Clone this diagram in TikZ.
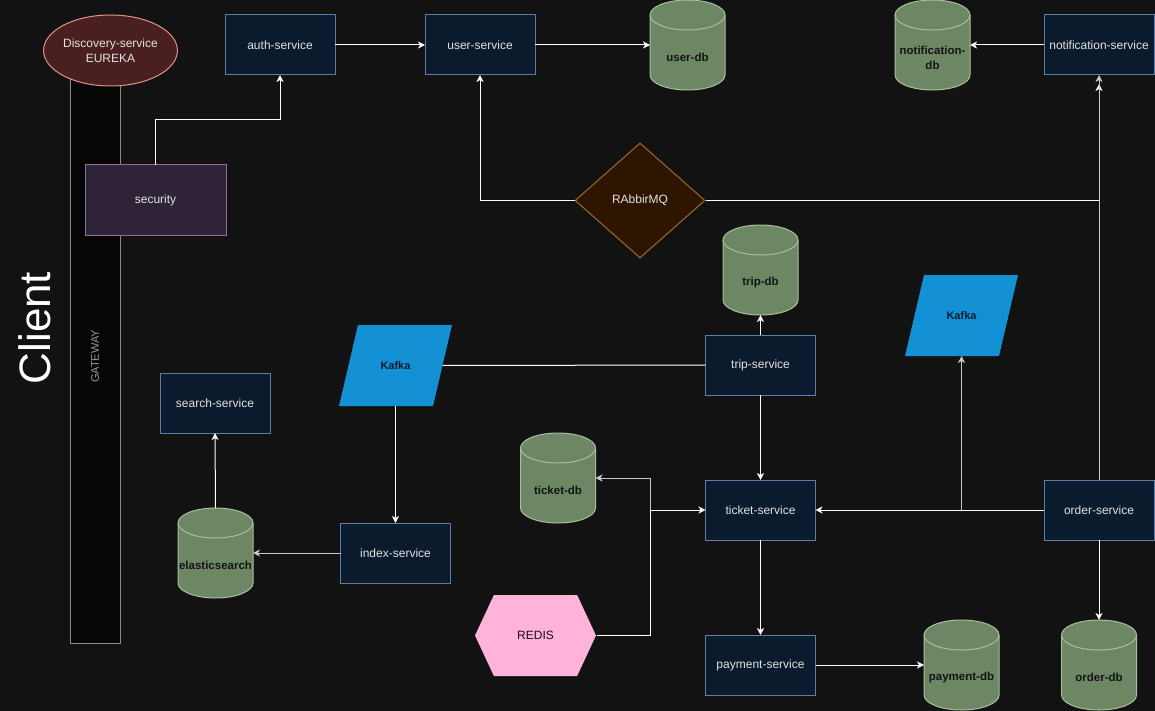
\documentclass[tikz,border=0pt]{standalone}
\usepackage{fontspec}
\setmainfont{Liberation Sans}
\usetikzlibrary{arrows.meta,shapes.geometric,shapes.symbols}

\definecolor{bg}{HTML}{121212}
\definecolor{svcfill}{HTML}{0C1A2D}
\definecolor{svcline}{HTML}{5D7EA8}
\definecolor{svctext}{HTML}{E2E2E2}
\definecolor{dbfill}{HTML}{6D8764}
\definecolor{dbrim}{HTML}{A9BE9F}
\definecolor{dbtextc}{HTML}{141414}
\definecolor{secfill}{HTML}{2E2337}
\definecolor{secline}{HTML}{8C6E9E}
\definecolor{eurekafill}{HTML}{4A1F1F}
\definecolor{eurekaline}{HTML}{E0918A}
\definecolor{mqfill}{HTML}{2E1500}
\definecolor{mqline}{HTML}{A36A1E}
\definecolor{kafkafill}{HTML}{1490D4}
\definecolor{kafkatext}{HTML}{0D1B2E}
\definecolor{redisfill}{HTML}{FFB3DA}
\definecolor{redistext}{HTML}{1E0A14}
\definecolor{gwfill}{HTML}{060606}
\definecolor{gwline}{HTML}{8A8A8A}
\definecolor{gwtext}{HTML}{9A9A9A}
\definecolor{linkgray}{HTML}{C8C8C8}

% Database cylinder: name, x, y (centre), text
\newcommand{\dbnode}[4]{%
    \node[dbbox] (#1) at (#2,#3) {};
    \filldraw[dbshape] ([yshift=-15pt]#1.north west) -- ([yshift=15pt]#1.south west)
        arc[start angle=180,end angle=360,x radius=37.5pt,y radius=15pt]
        -- ([yshift=-15pt]#1.north east)
        arc[start angle=0,end angle=180,x radius=37.5pt,y radius=15pt] -- cycle;
    \draw[dbshape,fill=none] ([yshift=-15pt]#1.north west)
        arc[start angle=180,end angle=360,x radius=37.5pt,y radius=15pt];
    \node[dbtext] at ([yshift=-12.5pt]#1.center) {#4};
}

% Kafka queue (slanted box): name, x, y (centre)
\newcommand{\kafkanode}[3]{%
    \node[kafkabox] (#1) at (#2,#3) {};
    \fill[kafkafill] ([xshift=19pt]#1.north west) -- (#1.north east)
        -- ([xshift=-19pt]#1.south east) -- (#1.south west) -- cycle;
    \node[kafkatxt] at (#1.center) {Kafka};
}

\begin{document}
\begin{tikzpicture}[x=1pt,y=1pt,line width=1pt,
    >={Stealth[length=7pt,width=7pt,inset=2pt]},
    svc/.style={draw=svcline,fill=svcfill,text=svctext,minimum width=110,minimum height=60,
        inner sep=0,outer sep=0,font=\fontsize{12}{14}\selectfont},
    dbbox/.style={minimum width=75,minimum height=90,inner sep=0,outer sep=0},
    dbshape/.style={draw=dbrim,fill=dbfill},
    dbtext/.style={text=dbtextc,align=center,font=\fontsize{11.5}{15}\selectfont\bfseries},
    kafkabox/.style={minimum width=113,minimum height=81,inner sep=0,outer sep=0},
    kafkatxt/.style={text=kafkatext,font=\fontsize{11}{13}\selectfont\bfseries},
    link/.style={->,draw=white},
    glink/.style={->,draw=linkgray}]
    \useasboundingbox (0,0) rectangle (1155,-711);
    \fill[bg] (0,0) rectangle (1155,-711);

    % Gateway, discovery and security:
    \node[draw=gwline,fill=gwfill,rotate=90,minimum width=573,minimum height=50,inner sep=0,
        text=gwtext,font=\fontsize{11}{13}\selectfont] (gateway) at (95,-356.5) {GATEWAY};
    \node[ellipse,draw=eurekaline,fill=eurekafill,minimum width=131,minimum height=71,inner sep=0,
        align=center,text=svctext,font=\fontsize{12}{15}\selectfont] (eureka) at (110.5,-50.5) {Discovery-service\\EUREKA};
    \node[svc,draw=secline,fill=secfill,minimum width=141,minimum height=70] (security) at (155.5,-200) {security};
    \node[rotate=90,text=white,font=\fontsize{44}{44}\selectfont] (client) at (35,-328) {Client};

    % Services:
    \node[svc] (auth)    at (280,-45)   {auth-service};
    \node[svc] (user)    at (480,-45)   {user-service};
    \node[svc] (notif)   at (1099,-45)  {notification-service};
    \node[svc] (search)  at (215,-403)  {search-service};
    \node[svc] (index)   at (395.5,-553) {index-service};
    \node[svc] (trip)    at (760.5,-365) {trip-service};
    \node[svc] (ticket)  at (760.5,-510) {ticket-service};
    \node[svc] (payment) at (760.5,-665) {payment-service};
    \node[svc] (order)   at (1099,-510) {order-service};

    % Databases:
    \dbnode{userdb}{687.5}{-45}{user-db}
    \dbnode{notifdb}{932.5}{-45}{notification-\\db}
    \dbnode{tripdb}{760.5}{-270}{trip-db}
    \dbnode{ticketdb}{558}{-478}{ticket-db}
    \dbnode{elastic}{215.5}{-553}{elasticsearch}
    \dbnode{paymentdb}{961.5}{-665}{payment-db}
    \dbnode{orderdb}{1099}{-665}{order-db}

    % Brokers and cache:
    \node[diamond,draw=mqline,fill=mqfill,minimum width=130,minimum height=115,inner sep=0,
        text=svctext,font=\fontsize{12}{14}\selectfont] (rabbit) at (640,-200.5) {RAbbirMQ};
    \kafkanode{kafkatrip}{395.5}{-365.5}
    \kafkanode{kafkaorder}{961.5}{-315.5}
    \node[signal,signal to=west and east,signal pointer angle=130,minimum width=121,minimum height=81,
        inner sep=0,fill=redisfill,text=redistext,font=\fontsize{12}{14}\selectfont] (redis) at (535.5,-635.5) {REDIS};

    % Connectors:
    \draw[link] (security.north) -- ++(0,45) -| (auth.south);
    \draw[link] (auth) -- (user);
    \draw[link] (user) -- (userdb);
    \draw[link] (notif) -- (notifdb);
    \draw[link] (rabbit.west) -| (user.south);
    \draw[link,shorten >=9pt] (rabbit.east) -| (notif.south);
    \draw[glink] (order.north) -- (notif.south);
    \draw[link] (trip.north) -- (tripdb.south);
    \draw[draw=white] ([xshift=-9.5pt]kafkatrip.east) -- (trip.west);
    \draw[link] (kafkatrip.south) -- (index.north);
    \draw[glink] (index.west) -- (elastic.east);
    \draw[link] (elastic.north) -- (search.south);
    \draw[link] (trip.south) -- (ticket.north);
    \draw[glink] (order.west) -| (kafkaorder.south);
    \draw[link] (order.west) -- (ticket.east);
    \draw[link] (order.south) -- (orderdb.north);
    \draw[link] (ticket.south) -- (payment.north);
    \draw[link] (payment) -- (paymentdb);
    \draw[glink] (redis.east) -- ++(54,0) |- (ticketdb.east);
    \draw[link] (redis.east) -- ++(54,0) |- (ticket.west);
\end{tikzpicture}
\end{document}
